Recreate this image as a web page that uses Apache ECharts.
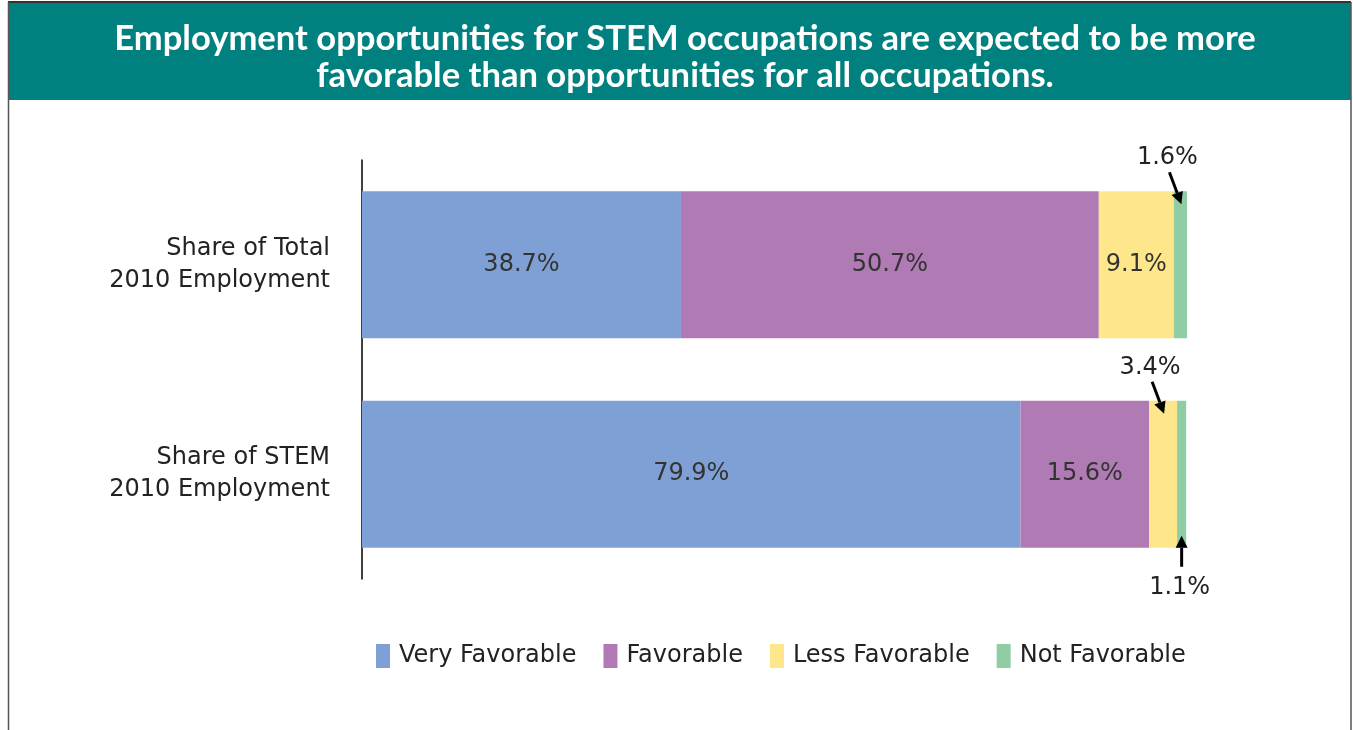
<!DOCTYPE html>
<html>
<head>
<meta charset="utf-8">
<script src="https://cdn.jsdelivr.net/npm/echarts@6/dist/echarts.min.js"></script>
<style>
  html, body { margin: 0; padding: 0; background: #fff; }
  #chart { width: 1353px; height: 730px; }
</style>
</head>
<body>
<div id="chart"></div>
<script>
// categories, top to bottom
const categories = ['Share of Total\n2010 Employment', 'Share of STEM\n2010 Employment']
const seriesNames = ['Very Favorable', 'Favorable', 'Less Favorable', 'Not Favorable']
const veryFavorable = [38.7, 79.9]
const favorable = [50.7, 15.6]
const lessFavorable = [9.1, 3.4]
const notFavorable = [1.6, 1.1]
// small segments labelled outside the bar with an arrow: [category, series, side]
const callouts = [
  [0, 3, 'above'],
  [1, 2, 'above'],
  [1, 3, 'below']
]
const colors = ['#7FA0D4', '#B07AB4', '#FEE68A', '#90CDA4']
const font = '"DejaVu Sans", sans-serif'
const titleFont = 'Lato, "Open Sans", sans-serif'
const barPx = 147

const allValues = [veryFavorable, favorable, lessFavorable, notFavorable]
const isCallout = (cat, s) => callouts.some(c => c[0] === cat && c[1] === s)

// centre of each called-out segment on the value axis
const calloutData = callouts.map(c => {
  let start = 0
  for (let s = 0; s < c[1]; s++) start += allValues[s][c[0]]
  const v = allValues[c[1]][c[0]]
  return [start + v / 2, c[0], v.toFixed(1) + '%', c[2]]
})

const chart = echarts.init(document.getElementById('chart'))

const barSeries = allValues.map((vals, s) => ({
  name: seriesNames[s],
  type: 'bar',
  stack: 'total',
  barWidth: barPx,
  itemStyle: { color: colors[s] },
  label: {
    show: true,
    position: 'inside',
    fontFamily: font,
    fontSize: 24,
    color: '#333',
    formatter: p => isCallout(p.dataIndex, s) ? '' : p.value.toFixed(1) + '%'
  },
  emphasis: { disabled: true },
  data: vals
}))

function renderCallout (params, api) {
  const pt = api.coord([api.value(0), api.value(1)])
  const half = barPx / 2
  const side = calloutData[params.dataIndex][3]
  const text = calloutData[params.dataIndex][2]
  const cx = pt[0]
  let tail, tip, tx, ty
  if (side === 'above') {
    const top = pt[1] - half
    tail = [cx - 11, top - 19]
    tip = [cx + 1, top + 13]
    tx = cx - 13
    ty = top - 33
  } else {
    const bottom = pt[1] + half
    tail = [cx, bottom + 19]
    tip = [cx, bottom - 12]
    tx = cx - 2
    ty = bottom + 40
  }
  const dx = tip[0] - tail[0]
  const dy = tip[1] - tail[1]
  const len = Math.sqrt(dx * dx + dy * dy)
  const ux = dx / len
  const uy = dy / len
  const headLen = 12
  const headW = 6
  const base = [tip[0] - ux * headLen, tip[1] - uy * headLen]
  return {
    type: 'group',
    children: [
      {
        type: 'line',
        shape: { x1: tail[0], y1: tail[1], x2: base[0], y2: base[1] },
        style: { stroke: '#000', lineWidth: 3 }
      },
      {
        type: 'polygon',
        shape: {
          points: [
            tip,
            [base[0] - uy * headW, base[1] + ux * headW],
            [base[0] + uy * headW, base[1] - ux * headW]
          ]
        },
        style: { fill: '#000' }
      },
      {
        type: 'text',
        x: tx,
        y: ty,
        style: {
          text: text,
          fontFamily: font,
          fontSize: 24,
          fill: '#222',
          align: 'center',
          verticalAlign: 'middle'
        }
      }
    ]
  }
}

chart.setOption({
  animation: false,
  title: {
    text: 'Employment opportunities for STEM occupations are expected to be more\nfavorable than opportunities for all occupations.',
    left: 680,
    top: 15,
    textAlign: 'center',
    textStyle: {
      fontFamily: titleFont,
      fontWeight: 'bold',
      fontSize: 34.6,
      lineHeight: 37,
      color: '#fff',
      align: 'center'
    }
  },
  graphic: [
    {
      type: 'rect',
      z: -1,
      shape: { x: 8, y: 2, width: 1343, height: 98 },
      style: { fill: '#00807F' }
    },
    {
      type: 'line',
      shape: { x1: 8, y1: 2, x2: 1351, y2: 2 },
      style: { stroke: '#333', lineWidth: 2 }
    },
    {
      type: 'line',
      shape: { x1: 8.5, y1: 2, x2: 8.5, y2: 730 },
      style: { stroke: '#555', lineWidth: 1.5 }
    },
    {
      type: 'line',
      shape: { x1: 1351, y1: 2, x2: 1351, y2: 730 },
      style: { stroke: '#555', lineWidth: 1.5 }
    }
  ],
  legend: {
    data: seriesNames,
    left: 371,
    top: 639,
    itemWidth: 14,
    itemHeight: 24,
    itemGap: 27,
    icon: 'rect',
    selectedMode: false,
    textStyle: {
      fontFamily: font,
      fontSize: 24,
      color: '#222',
      padding: [0, 0, 0, 4]
    }
  },
  grid: {
    left: 362,
    right: 166,
    top: 160,
    bottom: 151
  },
  xAxis: {
    type: 'value',
    min: 0,
    max: 100.1,
    show: false
  },
  yAxis: {
    type: 'category',
    inverse: true,
    data: categories,
    axisLine: { show: true, lineStyle: { color: '#000', width: 1.5 } },
    axisTick: { show: false },
    axisLabel: {
      margin: 32,
      fontFamily: font,
      fontSize: 24,
      lineHeight: 32,
      color: '#222',
      align: 'right'
    }
  },
  series: barSeries.concat([{
    type: 'custom',
    renderItem: renderCallout,
    encode: { x: 0, y: 1 },
    z: 5,
    silent: true,
    data: calloutData.map(d => [d[0], d[1]])
  }])
})
</script>
</body>
</html>
